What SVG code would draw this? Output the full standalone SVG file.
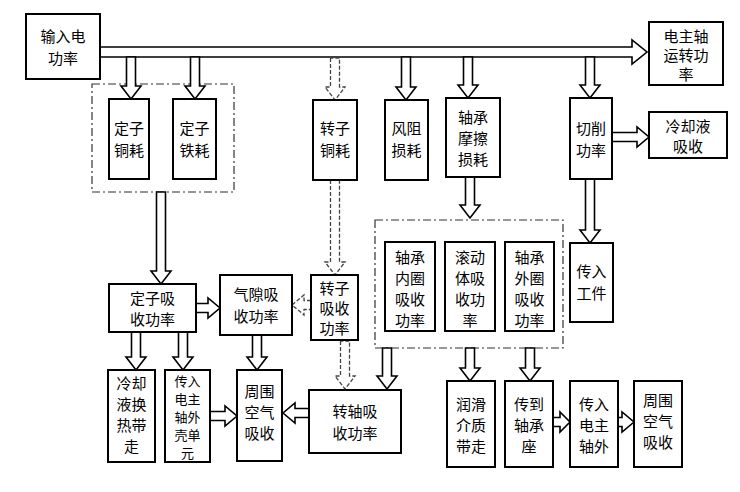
<svg xmlns="http://www.w3.org/2000/svg" width="740" height="492" viewBox="0 0 740 492">
<style>
.n{fill:#fff;stroke:#000;stroke-width:2}
.g{fill:none;stroke:#333;stroke-width:1.2;stroke-dasharray:8,3,2,3}
.a{fill:#fff;stroke:#000;stroke-width:1.6}
.d{fill:#fff;stroke:#444;stroke-width:1.3;stroke-dasharray:4,2}
text{font-family:"Noto Sans CJK SC",sans-serif;font-size:15px;text-anchor:middle;fill:#000}
.s{font-size:13px}
</style>
<rect width="740" height="492" fill="#fff"/>
<rect class="g" x="92" y="84" width="142" height="108"/>
<rect class="g" x="375" y="220" width="188" height="128"/>
<g id="connectors">
<polygon class="a" points="100,47 632,47 632,40 647,52 632,64 632,57 100,57"/>
<polygon class="a" points="126.5,57 126.5,86 121,86 131,99 141,86 135.5,86 135.5,57"/>
<polygon class="a" points="190.5,57 190.5,86 185,86 195,99 205,86 199.5,86 199.5,57"/>
<polygon class="d" points="330.5,58 330.5,87 325,87 335,100 345,87 339.5,87 339.5,58"/>
<polygon class="a" points="401.5,57 401.5,87 396,87 406,100 416,87 410.5,87 410.5,57"/>
<polygon class="a" points="463.5,57 463.5,85 458,85 468,98 478,85 472.5,85 472.5,57"/>
<polygon class="a" points="585.5,57 585.5,85 580,85 590,98 600,85 594.5,85 594.5,57"/>
<polygon class="a" points="612,132.5 637,132.5 637,127 649,137 637,147 637,141.5 612,141.5"/>
<polygon class="a" points="585.5,179 585.5,230 580,230 590,243 600,230 594.5,230 594.5,179"/>
<polygon class="a" points="465.5,177 465.5,205 460,205 470,218 480,205 474.5,205 474.5,177"/>
<polygon class="a" points="156.5,192 156.5,271 151,271 161,284 171,271 165.5,271 165.5,192"/>
<polygon class="d" points="330.5,180 330.5,262 325,262 335,275 345,262 339.5,262 339.5,180"/>
<polygon class="a" points="196,303.5 208,303.5 208,298 220,308 208,318 208,312.5 196,312.5"/>
<polygon class="d" points="311,300.5 304,300.5 304,295 292,305 304,315 304,309.5 311,309.5"/>
<polygon class="d" points="340.5,341 340.5,376 335,376 345,389 355,376 349.5,376 349.5,341"/>
<polygon class="a" points="131.5,332 131.5,357 126,357 136,370 146,357 140.5,357 140.5,332"/>
<polygon class="a" points="178.5,332 178.5,357 173,357 183,370 193,357 187.5,357 187.5,332"/>
<polygon class="a" points="252.5,335 252.5,357 247,357 257,370 267,357 261.5,357 261.5,335"/>
<polygon class="a" points="210,411.5 225,411.5 225,406 237,416 225,426 225,420.5 210,420.5"/>
<polygon class="a" points="309,408.5 295,408.5 295,403 283,413 295,423 295,417.5 309,417.5"/>
<polygon class="a" points="382.5,348 382.5,376 377,376 387,389 397,376 391.5,376 391.5,348"/>
<polygon class="a" points="465.5,348 465.5,368 460,368 470,381 480,368 474.5,368 474.5,348"/>
<polygon class="a" points="525.5,348 525.5,368 520,368 530,381 540,368 534.5,368 534.5,348"/>
<polygon class="a" points="553,417.5 560,417.5 560,412 570,422 560,432 560,426.5 553,426.5"/>
<polygon class="a" points="618,417.5 622,417.5 622,412 634,422 622,432 622,426.5 618,426.5"/>
</g>
<g id="input"><rect class="n" x="26" y="14" width="74" height="65"/><text x="63" y="42">输入电</text><text x="63" y="64">功率</text></g>
<g id="output"><rect class="n" x="649" y="22" width="74" height="63"/><text x="686" y="42">电主轴</text><text x="686" y="61">运转功</text><text x="686" y="80">率</text></g>
<g id="scu"><rect class="n" x="109" y="99" width="40" height="80"/><text x="129" y="134">定子</text><text x="129" y="156">铜耗</text></g>
<g id="sfe"><rect class="n" x="173" y="99" width="43" height="80"/><text x="194.5" y="134">定子</text><text x="194.5" y="156">铁耗</text></g>
<g id="rcu"><rect class="n" x="313" y="100" width="44" height="80"/><text x="335" y="134">转子</text><text x="335" y="156">铜耗</text></g>
<g id="wind"><rect class="n" x="385" y="100" width="43" height="80"/><text x="406.5" y="134">风阻</text><text x="406.5" y="156">损耗</text></g>
<g id="bf"><rect class="n" x="446" y="98" width="54" height="79"/><text x="473" y="123">轴承</text><text x="473" y="144">摩擦</text><text x="473" y="165">损耗</text></g>
<g id="cut"><rect class="n" x="570" y="98" width="42" height="81"/><text x="591" y="134">切削</text><text x="591" y="156">功率</text></g>
<g id="cool"><rect class="n" x="649" y="112" width="78" height="46"/><text x="688" y="132">冷却液</text><text x="688" y="152">吸收</text></g>
<g id="work"><rect class="n" x="570" y="243" width="43" height="79"/><text x="591.5" y="277">传入</text><text x="591.5" y="299">工件</text></g>
<g id="inner"><rect class="n" x="385" y="242" width="50" height="89"/><text x="410" y="263">轴承</text><text x="410" y="284">内圈</text><text x="410" y="305">吸收</text><text x="410" y="326">功率</text></g>
<g id="roll"><rect class="n" x="445" y="242" width="50" height="89"/><text x="470" y="263">滚动</text><text x="470" y="284">体吸</text><text x="470" y="305">收功</text><text x="470" y="326">率</text></g>
<g id="outer"><rect class="n" x="505" y="242" width="49" height="89"/><text x="529.5" y="263">轴承</text><text x="529.5" y="284">外圈</text><text x="529.5" y="305">吸收</text><text x="529.5" y="326">功率</text></g>
<g id="sabs"><rect class="n" x="109" y="284" width="87" height="48"/><text x="152.5" y="304">定子吸</text><text x="152.5" y="325">收功率</text></g>
<g id="gap"><rect class="n" x="220" y="275" width="72" height="60"/><text x="256" y="300">气隙吸</text><text x="256" y="322">收功率</text></g>
<g id="rabs"><rect class="n" x="311" y="275" width="47" height="65"/><text x="334.5" y="294">转子</text><text x="334.5" y="314">吸收</text><text x="334.5" y="334">功率</text></g>
<g id="coolex"><rect class="n" x="108" y="370" width="47" height="92"/><text x="131.5" y="389">冷却</text><text x="131.5" y="410">液换</text><text x="131.5" y="431">热带</text><text x="131.5" y="452">走</text></g>
<g id="shell"><rect class="n" x="165" y="370" width="45" height="92"/><text class="s" x="187.5" y="386">传入</text><text class="s" x="187.5" y="404">电主</text><text class="s" x="187.5" y="422">轴外</text><text class="s" x="187.5" y="440">壳单</text><text class="s" x="187.5" y="458">元</text></g>
<g id="air1"><rect class="n" x="237" y="370" width="45" height="91"/><text x="259.5" y="397">周围</text><text x="259.5" y="418">空气</text><text x="259.5" y="439">吸收</text></g>
<g id="shaft"><rect class="n" x="309" y="390" width="92" height="63"/><text x="355" y="417">转轴吸</text><text x="355" y="439">收功率</text></g>
<g id="lub"><rect class="n" x="447" y="381" width="48" height="86"/><text x="471" y="410">润滑</text><text x="471" y="431">介质</text><text x="471" y="452">带走</text></g>
<g id="seat"><rect class="n" x="505" y="381" width="48" height="86"/><text x="529" y="410">传到</text><text x="529" y="431">轴承</text><text x="529" y="452">座</text></g>
<g id="sp"><rect class="n" x="570" y="381" width="48" height="86"/><text x="594" y="410">传入</text><text x="594" y="431">电主</text><text x="594" y="452">轴外</text></g>
<g id="air2"><rect class="n" x="634" y="381" width="48" height="86"/><text x="658" y="406">周围</text><text x="658" y="427">空气</text><text x="658" y="448">吸收</text></g>
</svg>
